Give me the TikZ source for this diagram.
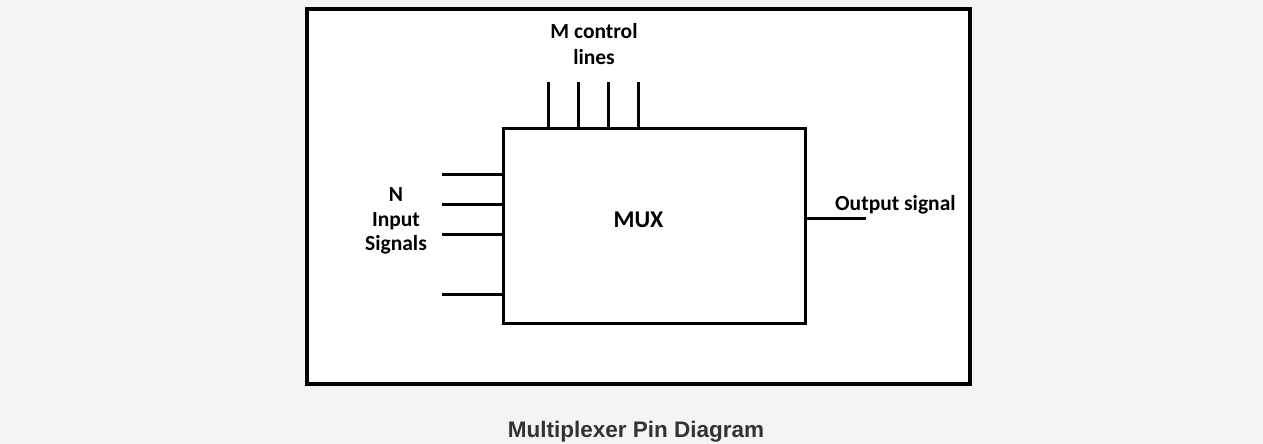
\documentclass[tikz,border=0pt]{standalone}
\usepackage{fontspec}
\setmainfont{Carlito}
\newfontfamily\capfont{Liberation Sans}
\definecolor{bgcol}{HTML}{F4F4F4}
\definecolor{capcol}{HTML}{333333}
\begin{document}
\begin{tikzpicture}[x=1pt,y=-1pt,
  wire/.style={line width=3pt},
  lbl/.style={font=\fontsize{21.5}{26}\selectfont\bfseries, inner sep=0pt, align=center}]
\fill[bgcol] (0,0) rectangle (1263,444);
\useasboundingbox (0,0) rectangle (1263,444);
\node[draw, line width=3.2pt, fill=white, minimum width=663pt, minimum height=375pt, anchor=north west, inner sep=0pt, outer sep=0pt] (frame) at (307,9) {};
\node[draw, line width=3pt, minimum width=302pt, minimum height=195pt, anchor=north west, inner sep=0pt, outer sep=0pt] (mux) at (503,128) {};
\node[font=\fontsize{24}{28}\selectfont\bfseries, inner sep=0pt] (muxlbl) at (638.5,220) {MUX};
% control lines
\coordinate (c1) at (548,82);
\coordinate (c2) at (578,82);
\coordinate (c3) at (608,82);
\coordinate (c4) at (638,82);
\foreach \c in {c1,c2,c3,c4} \draw[wire] (\c) -- (\c |- mux.north);
% inputs
\coordinate (i1) at (442,174);
\coordinate (i2) at (442,204);
\coordinate (i3) at (442,234);
\coordinate (i4) at (442,294);
\foreach \i in {i1,i2,i3,i4} \draw[wire] (\i) -- (\i -| mux.west);
% output
\coordinate (o) at (866,218);
\draw[wire] (mux.east |- o) -- (o);
% labels
\node[lbl, font=\fontsize{21.5}{26.6}\selectfont\bfseries] (ctl) at (594,44) {M control\\lines};
\node[lbl, font=\fontsize{21.5}{24.5}\selectfont\bfseries] (inl) at (396,221) {N\\Input\\Signals};
\node[lbl, anchor=base west] (outl) at (835,210) {Output signal};
\node[font=\capfont\bfseries\fontsize{22.5}{27}\selectfont, text=capcol, inner sep=0pt, anchor=base] (cap) at (636,437) {Multiplexer Pin Diagram};
\end{tikzpicture}
\end{document}
